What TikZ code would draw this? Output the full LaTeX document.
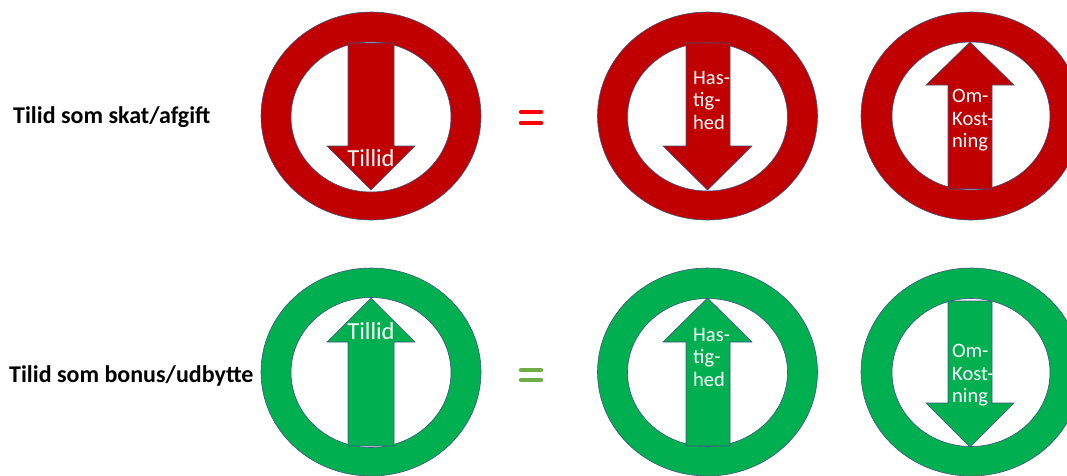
\documentclass[tikz,border=0pt]{standalone}
\usepackage{fontspec}
\setmainfont{Carlito}
\definecolor{ringred}{HTML}{C00000}
\definecolor{ringgreen}{HTML}{00B050}
\definecolor{edgeblue}{HTML}{41547F}
\definecolor{eqred}{HTML}{FF0000}
\definecolor{eqgreen}{HTML}{70AD47}
\tikzset{
  ringshape/.style={even odd rule, draw=edgeblue, line width=0.6pt},
  arrowshape/.style={draw=edgeblue, line width=0.6pt},
  rowlabel/.style={font=\bfseries\fontsize{24}{28}\selectfont, text=black, inner sep=0pt, anchor=west},
  biglabel/.style={font=\fontsize{24.5}{28}\selectfont, text=white, inner sep=0pt},
  smalllabel/.style={font=\fontsize{20.5}{22.5}\selectfont, text=white, inner sep=0pt, align=left, anchor=north west},
  eqbar/.style={line width=4.5pt, line cap=round}
}
\begin{document}
\begin{tikzpicture}[x=1pt,y=-1pt]
\useasboundingbox (0,0) rectangle (1067,475);
\clip (0,0) rectangle (1067,475);
% ---------- red row ----------
\fill[ringred, ringshape] (371,116) ellipse [x radius=110, y radius=104] (371,117) ellipse [x radius=80, y radius=75];
\fill[ringred, ringshape] (707.5,116) ellipse [x radius=110, y radius=104] (707.5,117) ellipse [x radius=80, y radius=74];
\fill[ringred, ringshape] (971,116) ellipse [x radius=110, y radius=104] (971,116) ellipse [x radius=79, y radius=74];
% arrows red
\fill[ringred, arrowshape] (348,43) -- (394,43) -- (394,146) -- (415,146) -- (371,190) -- (327,146) -- (348,146) -- cycle;
\fill[ringred, arrowshape] (686,43) -- (730,43) -- (730,146) -- (752,146) -- (707.5,190) -- (663,146) -- (686,146) -- cycle;
\fill[ringred, arrowshape] (948,189) -- (992,189) -- (992,85) -- (1014,85) -- (970,42) -- (926,85) -- (948,85) -- cycle;
\node[biglabel] (t1) at (371,158) {Tillid};
\node[smalllabel] (h1) at (693,71) {Has-\\tig-\\hed};
\node[smalllabel] (o1) at (952,89) {Om-\\Kost-\\ning};
% ---------- green row ----------
\fill[ringgreen, ringshape] (371,372) ellipse [x radius=110, y radius=104] (371,372.5) ellipse [x radius=80, y radius=75];
\fill[ringgreen, ringshape] (707.5,372) ellipse [x radius=110, y radius=104] (707.5,372.5) ellipse [x radius=80, y radius=74];
\fill[ringgreen, ringshape] (971,372) ellipse [x radius=110, y radius=104] (971,372.5) ellipse [x radius=79, y radius=74];
\fill[ringgreen, arrowshape] (348,446) -- (394,446) -- (394,342) -- (415,342) -- (371,298) -- (327,342) -- (348,342) -- cycle;
\fill[ringgreen, arrowshape] (686,446) -- (730,446) -- (730,342) -- (752,342) -- (707.5,298) -- (663,342) -- (686,342) -- cycle;
\fill[ringgreen, arrowshape] (948,301) -- (992,301) -- (992,403) -- (1014,403) -- (970,447) -- (926,403) -- (948,403) -- cycle;
\node[biglabel] (t2) at (371,331) {Tillid};
\node[smalllabel] (h2) at (693,328) {Has-\\tig-\\hed};
\node[smalllabel] (o2) at (952,344) {Om-\\Kost-\\ning};
% ---------- row labels ----------
\node[rowlabel] (l1) at (13,117) {Tilid som skat/afgift};
\node[rowlabel] (l2) at (9,376) {Tilid som bonus/udbytte};
% ---------- equals signs ----------
\coordinate (e1a) at (521,112); \coordinate (e1b) at (541,112);
\coordinate (e1c) at (521,123); \coordinate (e1d) at (541,123);
\draw[eqbar, eqred] (e1a) -- (e1b) (e1c) -- (e1d);
\coordinate (e2a) at (521,370); \coordinate (e2b) at (541,370);
\coordinate (e2c) at (521,380); \coordinate (e2d) at (541,380);
\draw[eqbar, eqgreen] (e2a) -- (e2b) (e2c) -- (e2d);
\end{tikzpicture}
\end{document}
